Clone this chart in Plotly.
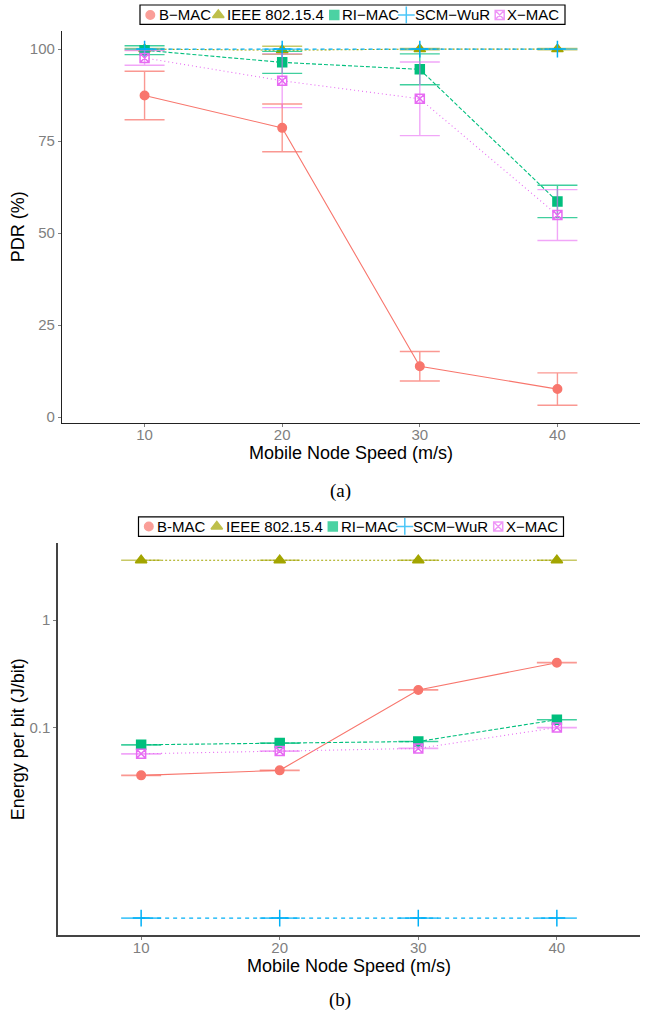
import plotly.graph_objects as go

speeds = [10, 20, 30, 40]
series = ["B\u2212MAC", "IEEE 802.15.4", "RI\u2212MAC", "SCM\u2212WuR", "X\u2212MAC"]
series_b = ["B-MAC", "IEEE 802.15.4", "RI\u2212MAC", "SCM\u2212WuR", "X\u2212MAC"]
colors = ["#F8766D", "#A3A500", "#00BF7D", "#00B0F6", "#E76BF3"]
err_colors = ["rgba(248,118,109,0.75)", "rgba(163,165,0,0.6)", "rgba(0,191,125,0.75)",
              "rgba(0,176,246,0.7)", "rgba(231,107,243,0.6)"]
symbols = ["circle", "triangle-up", "square", "cross-thin", "square-x-open"]
dashes = ["solid", "2px,2px", "4px,2px", "4px,4px", "1px,3px"]

# PDR (%) mean and error half-width
pdr_bmac = [87.4, 78.6, 13.8, 7.6]
pdr_bmac_err = [6.6, 6.5, 4.0, 4.4]
pdr_ieee = [100.0, 99.7, 100.0, 100.0]
pdr_ieee_err = [0.2, 1.1, 0.2, 0.2]
pdr_rimac = [99.7, 96.4, 94.5, 58.6]
pdr_rimac_err = [1.2, 3.0, 4.2, 4.4]
pdr_scm = [100.0, 100.0, 100.0, 100.0]
pdr_scm_err = [0.0, 0.0, 0.0, 0.0]
pdr_xmac = [97.6, 91.4, 86.5, 54.9]
pdr_xmac_err = [2.0, 7.3, 10.0, 6.9]

# Energy per bit (J/bit)
en_bmac = [0.0362, 0.0403, 0.225, 0.403]
en_ieee = [3.6, 3.6, 3.6, 3.6]
en_rimac = [0.0696, 0.0722, 0.0747, 0.119]
en_scm = [0.00171, 0.00171, 0.00171, 0.00171]
en_xmac = [0.0574, 0.0608, 0.0644, 0.1006]
en_err_pct = 0.3

pdr_vals = [pdr_bmac, pdr_ieee, pdr_rimac, pdr_scm, pdr_xmac]
pdr_errs = [pdr_bmac_err, pdr_ieee_err, pdr_rimac_err, pdr_scm_err, pdr_xmac_err]
en_vals = [en_bmac, en_ieee, en_rimac, en_scm, en_xmac]

FONT = "Liberation Sans"
W, H = 645, 1019


def px(x):
    return x / W


def py(y):
    return 1 - y / H


MSIZE = {"circle": 8.5, "triangle-up": 10, "square": 9, "cross-thin": 12, "square-x-open": 9}

fig = go.Figure()

for i, name in enumerate(series):
    c = colors[i]
    common = dict(mode="lines+markers", showlegend=False,
                  line=dict(color=c, width=1.1, dash=dashes[i]),
                  marker=dict(symbol=symbols[i], size=MSIZE[symbols[i]], color=c,
                              line=dict(color=c, width=1.5)))
    fig.add_trace(go.Scatter(
        x=speeds, y=pdr_vals[i], name=name,
        error_y=dict(type="data", array=pdr_errs[i], visible=True, color=err_colors[i],
                     thickness=1.4, width=20),
        xaxis="x", yaxis="y", **common))
    fig.add_trace(go.Scatter(
        x=speeds, y=en_vals[i], name=series_b[i],
        error_y=dict(type="percent", value=en_err_pct, visible=True, color=err_colors[i],
                     thickness=1.4, width=20),
        xaxis="x2", yaxis="y2", **common))

# Key (legend) for each panel, drawn on a pixel-mapped overlay axis
key_sym_x = [150.3, 218.3, 334.3, 406.3, 499.7]
key_txt_x = [157.5, 226.0, 341.0, 413.5, 506.0]
key_rows = [(15, 5, 24.5, series, 0.0), (528, 518.5, 538, series_b, -1.5)]

annotations = []
shapes = []
for (yc, y0, y1, names, dx) in key_rows:
    fig.add_trace(go.Scatter(
        x=[v + dx for v in key_sym_x], y=[yc] * 5, mode="markers", showlegend=False,
        hoverinfo="skip",
        marker=dict(symbol=symbols, size=[MSIZE[s] for s in symbols], color=colors,
                    line=dict(color=colors, width=1.5)),
        xaxis="x3", yaxis="y3"))
    for i, nm in enumerate(names):
        annotations.append(dict(text=nm, x=px(key_txt_x[i] + dx), y=py(yc), xref="paper",
                                yref="paper", xanchor="left", yanchor="middle",
                                showarrow=False, borderpad=0,
                                font=dict(family=FONT, size=15, color="black")))
    shapes.append(dict(type="rect", xref="paper", yref="paper",
                       x0=px(140 + dx), x1=px(565 + dx), y0=py(y1), y1=py(y0),
                       line=dict(color="black", width=1.2), fillcolor="rgba(0,0,0,0)"))

annotations += [
    dict(text="(a)", x=px(340), y=py(492), xref="paper", yref="paper", xanchor="center",
         yanchor="middle", showarrow=False,
         font=dict(family="Liberation Serif", size=19, color="black")),
    dict(text="(b)", x=px(340), y=py(1003), xref="paper", yref="paper", xanchor="center",
         yanchor="middle", showarrow=False,
         font=dict(family="Liberation Serif", size=19, color="black")),
]


def axis_style(lc, lw):
    return dict(showline=True, linecolor=lc, linewidth=lw, showgrid=False,
                zeroline=False, ticks="outside", ticklen=3, tickcolor="#7F7F7F",
                tickfont=dict(family=FONT, size=15, color="#7F7F7F"), mirror=False)


fig.update_layout(
    width=W, height=H, margin=dict(l=0, r=0, t=0, b=0),
    paper_bgcolor="white", plot_bgcolor="rgba(0,0,0,0)",
    font=dict(family=FONT, color="black"),
    showlegend=False,
    xaxis=dict(domain=[px(62), px(640)], range=[4, 46], tickvals=speeds,
               ticklabelstandoff=-5,
               title=dict(text="Mobile Node Speed (m/s)", font=dict(size=18), standoff=0),
               anchor="y", **axis_style("#222222", 1.3)),
    yaxis=dict(domain=[py(424), py(31)], range=[-1.55, 104.95],
               tickvals=[0, 25, 50, 75, 100],
               title=dict(text="PDR (%)", font=dict(size=18), standoff=0),
               anchor="x", **axis_style("#222222", 1.3)),
    xaxis2=dict(domain=[px(58), px(640)], range=[4, 46], tickvals=speeds,
                ticklabelstandoff=-5,
                title=dict(text="Mobile Node Speed (m/s)", font=dict(size=18), standoff=0),
                anchor="y2", **axis_style("#444444", 1.5)),
    yaxis2=dict(domain=[py(938), py(545)], type="log", range=[-2.926, 0.713],
                tickvals=[0.1, 1], ticktext=["0.1", "1"],
                title=dict(text="Energy per bit (J/bit)", font=dict(size=18), standoff=0),
                anchor="x2", **axis_style("#444444", 1.5)),
    xaxis3=dict(domain=[0, 1], range=[0, W], visible=False, fixedrange=True,
                anchor="y3"),
    yaxis3=dict(domain=[0, 1], range=[H, 0], visible=False, fixedrange=True,
                anchor="x3"),
    annotations=annotations,
    shapes=shapes,
)

fig.write_html("out.html", config={"displayModeBar": False},
               post_script="document.body.style.margin='0px';document.body.style.overflow='hidden';")
